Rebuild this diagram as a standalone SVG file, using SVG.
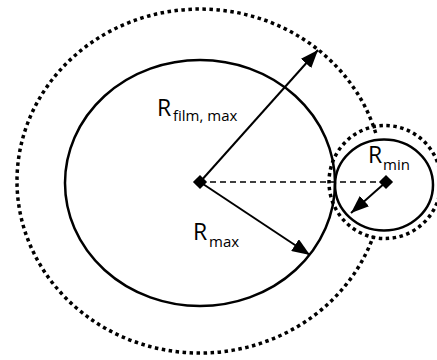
<svg xmlns="http://www.w3.org/2000/svg" width="437" height="360" viewBox="0 0 437 360">
<style>
.dot{fill:none;stroke:#000;stroke-width:3.5;stroke-dasharray:3.5 3.5}
.solid{fill:none;stroke:#000;stroke-width:2.5}
.arr{stroke:#000;stroke-width:2;fill:none}
.dash{stroke:#000;stroke-width:1.5;stroke-dasharray:6 4;fill:none}
.lbl{font-family:"Open Sans","Liberation Sans",sans-serif;font-size:23px;fill:#000}
.sub{font-size:15px}
</style>
<defs>
<marker id="ah2" markerWidth="18" markerHeight="14" refX="18" refY="7" orient="auto" markerUnits="userSpaceOnUse" viewBox="0 0 18 14">
<path d="M0,0 L18,7 L0,14 Z" fill="#000"/>
</marker>
</defs>
<g id="film-outer">
<path class="dot" d="M375.7,133 A183,172 0 1 0 373.4,236"/>
</g>
<g id="film-small">
<ellipse class="dot" cx="385" cy="182" rx="56" ry="56.5"/>
</g>
<g id="big-droplet">
<ellipse class="solid" cx="200" cy="183" rx="135" ry="123"/>
</g>
<g id="small-droplet">
<ellipse class="solid" cx="384" cy="185" rx="49" ry="45.5"/>
</g>
<g id="connectors">
<line class="dash" x1="200" y1="182" x2="386" y2="182"/>
<line class="arr" x1="200" y1="182" x2="318" y2="50" marker-end="url(#ah2)"/>
<line class="arr" x1="200" y1="182" x2="310" y2="255" marker-end="url(#ah2)"/>
<line class="arr" x1="386" y1="182" x2="351" y2="213" marker-end="url(#ah2)"/>
</g>
<g id="center-big">
<rect x="195" y="177" width="10" height="10" transform="rotate(45 200 182)" fill="#000"/>
</g>
<g id="center-small">
<rect x="381" y="177" width="10" height="10" transform="rotate(45 386 182)" fill="#000"/>
</g>
<g id="label-rfilm">
<text class="lbl" x="157" y="116">R<tspan class="sub" x="173" y="121">film, max</tspan></text>
</g>
<g id="label-rmax">
<text class="lbl" x="193" y="240">R<tspan class="sub" x="209" y="247">max</tspan></text>
</g>
<g id="label-rmin">
<text class="lbl" x="368" y="163">R<tspan class="sub" x="383" y="170">min</tspan></text>
</g>
</svg>
